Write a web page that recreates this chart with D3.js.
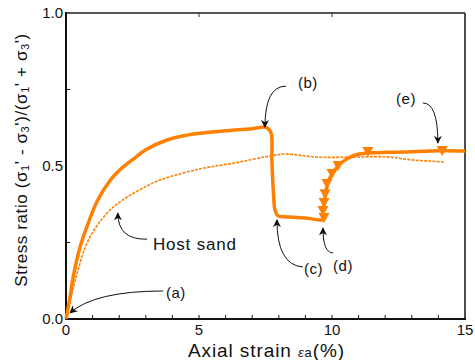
<!DOCTYPE html>
<html>
<head>
<meta charset="UTF-8">
<script src="https://cdn.jsdelivr.net/npm/d3@7"></script>
<style>
body { margin: 0; background: #fff; }
text { font-family: "Liberation Sans", Arial, sans-serif; fill: #111; }
</style>
</head>
<body>
<script>
// main specimen: strain (%) vs stress ratio
var mainStrain = [0, 0.15, 0.27, 0.53, 0.8, 1.17, 1.65, 2.0, 2.52, 3.0, 3.8, 4.5, 5.04, 6.0, 6.35, 7.0, 7.48, 7.6, 7.72, 7.74, 7.8, 7.86, 7.97, 8.1, 9.0, 9.66,
                  9.7, 9.66, 9.72, 9.76, 9.83, 10.0, 10.23, 10.5, 10.87, 11.25, 12.7, 14.1, 15.0];
var mainRatio  = [0, 0.07, 0.137, 0.235, 0.305, 0.385, 0.452, 0.485, 0.522, 0.553, 0.585, 0.6, 0.607, 0.615, 0.618, 0.622, 0.627, 0.622, 0.605, 0.52, 0.41, 0.355, 0.337, 0.335, 0.33, 0.324,
                  0.33, 0.355, 0.38, 0.41, 0.44, 0.474, 0.5, 0.52, 0.536, 0.542, 0.546, 0.55, 0.549];
// triangle markers
var triStrain = [9.7, 9.66, 9.7, 9.74, 9.81, 10.0, 10.23, 11.35, 14.14];
var triRatio  = [0.33, 0.353, 0.379, 0.408, 0.441, 0.474, 0.5, 0.546, 0.549];
// host sand
var hostStrain = [0, 0.79, 1.54, 2.15, 3.0, 3.53, 5.0, 6.35, 7.5, 8.23, 9.47, 10.75, 12.0, 13.0, 14.25];
var hostRatio  = [0, 0.248, 0.346, 0.39, 0.433, 0.454, 0.49, 0.51, 0.53, 0.539, 0.529, 0.529, 0.53, 0.52, 0.513];

var xTicks = [0, 5, 10, 15];
var yTicks = [0, 0.5, 1.0];

// annotations: label position and arrow (start, control, end) in data units
var notes = [
  {t: "(a)", lx: 3.76, ly: 0.069, p: [[3.65, 0.0915], [1.09, 0.0915], [0.15, 0.02]]},
  {t: "Host sand", lx: 3.27, ly: 0.2255, p: [[3.05, 0.261], [1.95, 0.258], [1.95, 0.346]]},
  {t: "(b)", lx: 8.72, ly: 0.755, p: [[8.27, 0.761], [7.48, 0.761], [7.48, 0.627]]},
  {t: "(e)", lx: 12.41, ly: 0.703, p: [[13.42, 0.706], [13.98, 0.706], [13.98, 0.575]]},
  {t: "(c)", lx: 8.95, ly: 0.147, p: [[8.91, 0.17], [7.93, 0.176], [7.93, 0.324]]},
  {t: "(d)", lx: 10.04, ly: 0.157, p: [[10.04, 0.216], [9.66, 0.216], [9.66, 0.297]]}
];

var orange = "#ff8000";
var W = 475, H = 360;
var L = 66, R = 465, T = 13, B = 319;

var svg = d3.select("body").append("svg").attr("width", W).attr("height", H);

var x = d3.scaleLinear().domain([0, 15]).range([L, R]);
var y = d3.scaleLinear().domain([0, 1]).range([B, T]);

svg.append("defs").append("marker")
   .attr("id", "ah")
   .attr("markerUnits", "userSpaceOnUse")
   .attr("viewBox", "0 0 10 10")
   .attr("refX", 9).attr("refY", 5)
   .attr("markerWidth", 8).attr("markerHeight", 8)
   .attr("orient", "auto")
   .append("path").attr("d", "M0,0 L10,5 L0,10 L3,5 Z").attr("fill", "#111");

// frame
svg.append("line").attr("x1", L).attr("x2", R).attr("y1", T).attr("y2", T).attr("stroke", "#555").attr("stroke-width", 2);
svg.append("line").attr("x1", R).attr("x2", R).attr("y1", T).attr("y2", B).attr("stroke", "#111").attr("stroke-width", 1.5);

// ticks (inward)
var minorX = d3.range(1, 15);
svg.selectAll(".tb").data(minorX).enter().append("line")
   .attr("x1", function(d){ return x(d); }).attr("x2", function(d){ return x(d); })
   .attr("y1", B).attr("y2", B - 4).attr("stroke", "#111").attr("stroke-width", 1);
svg.selectAll(".tt").data([5, 10]).enter().append("line")
   .attr("x1", function(d){ return x(d); }).attr("x2", function(d){ return x(d); })
   .attr("y1", T).attr("y2", T + 4).attr("stroke", "#333").attr("stroke-width", 1);
svg.selectAll(".tl").data([0.25, 0.75]).enter().append("line")
   .attr("x1", L).attr("x2", L + 4)
   .attr("y1", function(d){ return y(d); }).attr("y2", function(d){ return y(d); })
   .attr("stroke", "#111").attr("stroke-width", 1);

svg.append("line").attr("x1", L).attr("x2", R + 1).attr("y1", B).attr("y2", B).attr("stroke", "#111").attr("stroke-width", 2);
svg.append("line").attr("x1", L).attr("x2", L).attr("y1", T - 1).attr("y2", B + 1).attr("stroke", "#111").attr("stroke-width", 2);

// tick labels
svg.selectAll(".xl").data(xTicks).enter().append("text")
   .attr("x", function(d){ return x(d); }).attr("y", 335)
   .attr("text-anchor", "middle").attr("font-size", 15)
   .text(function(d){ return d; });
svg.selectAll(".yl").data(yTicks).enter().append("text")
   .attr("x", L - 3).attr("y", function(d){ return y(d) + 5; })
   .attr("text-anchor", "end").attr("font-size", 15)
   .text(function(d){ return d.toFixed(1); });

// curves
var line = d3.line().x(function(d){ return x(d[0]); }).y(function(d){ return y(d[1]); })
   .curve(d3.curveCatmullRom.alpha(0.5));
var hostPts = d3.zip(hostStrain, hostRatio);
var mainPts = d3.zip(mainStrain, mainRatio);

svg.append("path").datum(hostPts).attr("d", line)
   .attr("fill", "none").attr("stroke", orange).attr("stroke-width", 1.6)
   .attr("stroke-dasharray", "3,1.2");
svg.append("path").datum(mainPts).attr("d", line)
   .attr("fill", "none").attr("stroke", orange).attr("stroke-width", 3.5)
   .attr("stroke-linejoin", "round");

svg.selectAll(".tri").data(d3.zip(triStrain, triRatio)).enter().append("path")
   .attr("transform", function(d){ return "translate(" + x(d[0]) + "," + y(d[1]) + ")"; })
   .attr("d", "M-5.5,-5 L5.5,-5 L0,5 Z")
   .attr("fill", orange);

// annotations
svg.selectAll(".arr").data(notes).enter().append("path")
   .attr("d", function(d){
       var p = d.p;
       return "M" + x(p[0][0]) + "," + y(p[0][1]) + " Q" + x(p[1][0]) + "," + y(p[1][1]) + " " + x(p[2][0]) + "," + y(p[2][1]);
   })
   .attr("fill", "none").attr("stroke", "#111").attr("stroke-width", 1)
   .attr("marker-end", "url(#ah)");
svg.selectAll(".nt").data(notes).enter().append("text")
   .attr("x", function(d){ return x(d.lx); }).attr("y", function(d){ return y(d.ly); })
   .attr("font-size", function(d){ return d.t == "Host sand" ? 17 : 15; })
   .attr("letter-spacing", function(d){ return d.t == "Host sand" ? 0.8 : 0.5; })
   .text(function(d){ return d.t; });

// axis titles
var xt = svg.append("text").attr("x", 188).attr("y", 357).attr("font-size", 19).attr("letter-spacing", 0.9);
xt.append("tspan").text("Axial strain ");
xt.append("tspan").attr("font-size", 13).attr("font-style", "italic").text("ε");
xt.append("tspan").attr("font-size", 13).text("a");
xt.append("tspan").text("(%)");

var yt = svg.append("text").attr("transform", "translate(27,160) rotate(-90)")
   .attr("text-anchor", "middle").attr("font-size", 17).attr("letter-spacing", 0.6);
var parts = [["Stress ratio (σ", 0], ["1", 1], ["' - σ", 0], ["3", 1], ["')/(σ", 0], ["1", 1], ["' + σ", 0], ["3", 1], ["')", 0]];
parts.forEach(function(p, i){
    var s = yt.append("tspan").text(p[0]);
    if(p[1]){ s.attr("font-size", 11).attr("dy", 2); }
    else if(i > 0){ s.attr("dy", -2); }
});
</script>
</body>
</html>
